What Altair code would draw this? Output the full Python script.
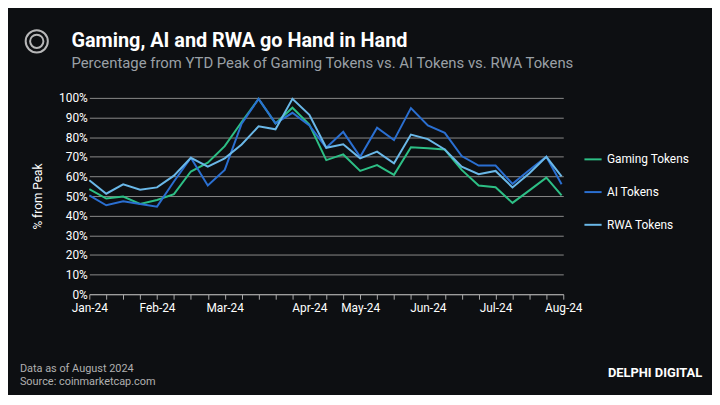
import altair as alt
import pandas as pd

gaming = [53.5,48.7,49.7,46,48,51,62.5,67,75.4,87.7,99.5,87,95,86.4,68.3,71.2,62.8,65.8,60.8,74.9,74.4,73.7,63.3,55.4,54.5,46.5,52.9,59.4,50.3]
ai = [50.3,45.3,47.3,46,44.6,57.4,69.5,55.4,63.3,86.9,99.5,87,92.4,86,74.6,82.7,70,84.8,78.5,94.8,86,82.2,70.4,65.5,65.5,56.2,63.3,70,56]
rwa = [58,51.2,56,53.2,54.4,60.4,69.5,65,69.2,76.3,85.5,84,99.5,91.4,74.6,76.4,69.2,72.6,66.7,81.3,79,73.7,65,61.1,62.8,54.4,61.6,70,60]
xpos = [0,1,2,3,4,5,6,7,8,9,10,11,12,13,14,15,16,17,18,19,20,21,22,23,24,25,26,27,27.9]
tick_idx = [0,4,8,13,16,20,24,28]
tick_lab = ["Jan-24","Feb-24","Mar-24","Apr-24","May-24","Jun-24","Jul-24","Aug-24"]
series = ["Gaming Tokens","AI Tokens","RWA Tokens"]
colors = ["#2dbf85","#2a6fd1","#6ab8e8"]

rows = []
for name, vals in zip(series, [gaming, ai, rwa]):
    for x, v in zip(xpos, vals):
        rows.append({"x": x, "v": v / 100, "s": name})
df = pd.DataFrame(rows)

lab_map = "{" + ",".join(f"'{i}':'{l}'" for i, l in zip(tick_idx, tick_lab)) + "}"

lines = alt.Chart(df).mark_line(strokeWidth=2).encode(
    x=alt.X("x:Q", scale=alt.Scale(domain=[0, 28], nice=False),
            axis=alt.Axis(values=list(range(29)), labelExpr=f"({lab_map})[datum.value] || ''",
                          grid=False, title=None, labelColor="white", labelFontSize=12,
                          domainColor="#aaa", tickColor="#aaa", tickSize=5, labelPadding=3,
                          labelFont="Roboto", labelOverlap=False, labelFlush=False, labelBound=False)),
    y=alt.Y("v:Q", scale=alt.Scale(domain=[0, 1]),
            axis=alt.Axis(format=".0%", values=[i/10 for i in range(11)], title="% from Peak",
                          titleColor="white", titleFontSize=12, titleFontWeight="normal",
                          labelColor="white", labelFontSize=12, domain=False, ticks=False,
                          gridColor="#8a8a8a", gridWidth=1, titlePadding=14, labelFont="Roboto",
                          titleFont="Roboto")),
    color=alt.Color("s:N", scale=alt.Scale(domain=series, range=colors),
                    legend=alt.Legend(title=None, orient="none", legendX=498, legendY=52,
                                      labelColor="white", labelFontSize=12, symbolType="stroke",
                                      symbolStrokeWidth=2, symbolSize=300, rowPadding=17,
                                      labelFont="Roboto")),
    order="x:Q",
)

def txt(t, x, y, size, color, weight="normal", align="left"):
    return alt.Chart(pd.DataFrame({"t": [t]})).mark_text(
        align=align, baseline="middle", fontSize=size, color=color, fontWeight=weight, font="Roboto"
    ).encode(text="t:N", x=alt.value(x), y=alt.value(y))

logo = alt.Chart(pd.DataFrame({"a": [0]})).mark_point(shape="circle", size=500, color="white", strokeWidth=2, filled=False).encode(
    x=alt.value(-53), y=alt.value(-57))
logo2 = alt.Chart(pd.DataFrame({"a": [0]})).mark_point(shape="circle", size=180, color="white", strokeWidth=2, filled=False).encode(
    x=alt.value(-53), y=alt.value(-57))

chart = alt.layer(
    lines,
    logo, logo2,
    txt("Gaming, AI and RWA go Hand in Hand", -18, -57, 20, "white", "bold"),
    txt("Percentage from YTD Peak of Gaming Tokens vs. AI Tokens vs. RWA Tokens", -18, -35, 15, "#9aa0a6"),
    txt("Data as of August 2024", -70, 273, 11, "#b0b0b0"),
    txt("Source: coinmarketcap.com", -70, 287, 11, "#b0b0b0"),
    txt("DELPHI DIGITAL", 523, 277, 13, "white", "bold"),
).properties(
    width=478, height=198, background="#0d0f12",
    autosize=alt.AutoSizeParams(type="none"),
    padding={"left": 82, "top": 89, "right": 150, "bottom": 100},
).configure_view(stroke=None)

chart.save("out.html", embed_options={"renderer": "svg", "actions": False})
